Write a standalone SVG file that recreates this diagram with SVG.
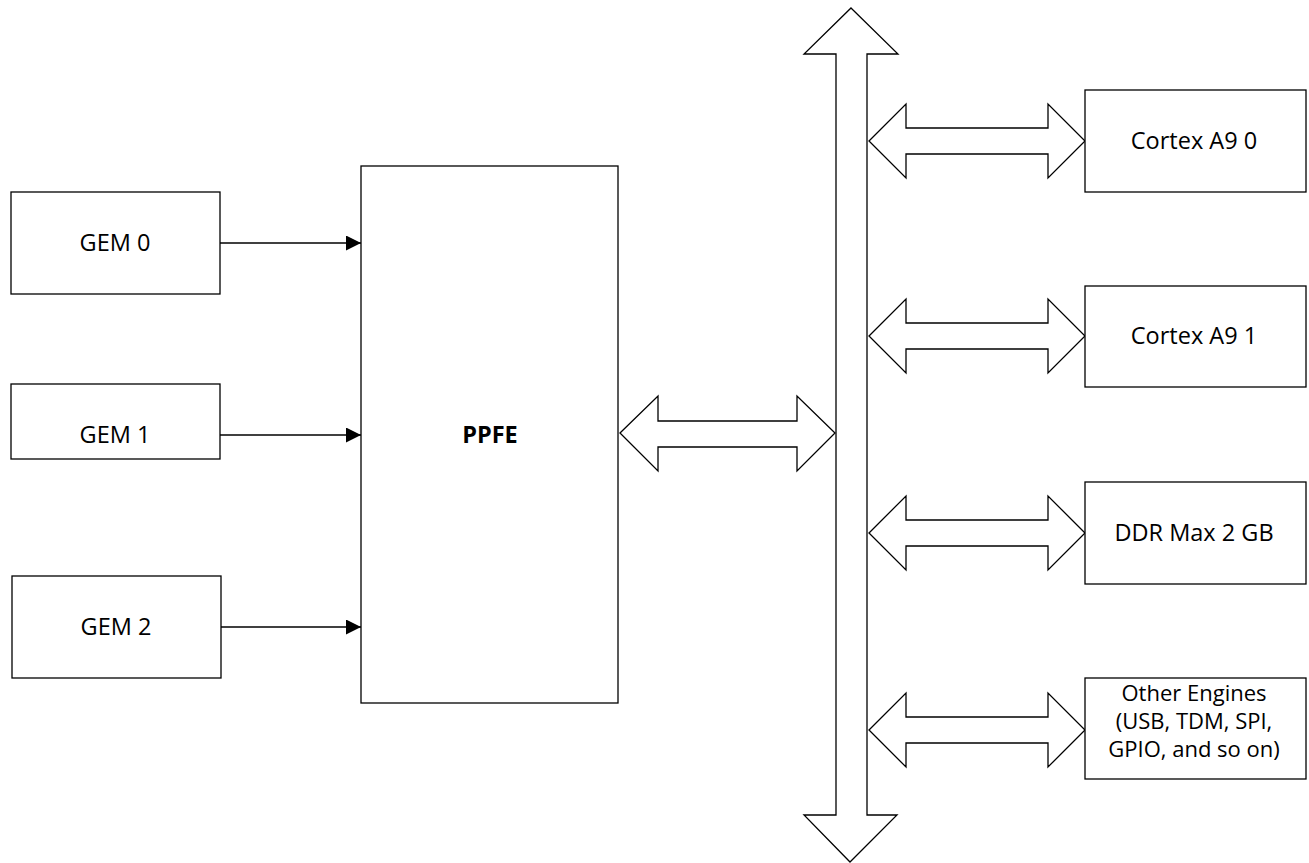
<svg xmlns="http://www.w3.org/2000/svg" width="1309" height="863" viewBox="0 0 1309 863">
<style>
.box{fill:#fff;stroke:#000;stroke-width:1.3}
.lbl{font-family:"Open Sans","Liberation Sans",sans-serif;font-size:23.5px;fill:#000;text-anchor:middle}
.small{font-size:22px}
.bold{font-weight:bold}
.fat{fill:#fff;stroke:#000;stroke-width:1.3;stroke-linejoin:miter}
.line{stroke:#000;stroke-width:1.3;fill:none}
</style>
<defs>
<marker id="ah" viewBox="0 0 10 10" refX="10" refY="5" markerWidth="22" markerHeight="15" markerUnits="userSpaceOnUse" orient="auto">
<path d="M0,0 L10,5 L0,10 z" fill="#000"/>
</marker>
</defs>
<rect width="1309" height="863" fill="#fff"/>
<g id="connectors">
<line class="line" x1="220" y1="243" x2="361" y2="243" marker-end="url(#ah)"/>
<line class="line" x1="220" y1="435" x2="361" y2="435" marker-end="url(#ah)"/>
<line class="line" x1="221" y1="627" x2="361" y2="627" marker-end="url(#ah)"/>
<polygon id="bus" class="fat" points="851,8 898,54 867,54 867,815 897,815 850,862 804,815 836,815 836,54 804,54"/>
<polygon id="ppfe-bus" class="fat" points="620,433 658,396 658,421 797,421 797,396 835,433 797,471 797,447 658,447 658,471"/>
<polygon class="fat" points="869,141 906,104 906,128 1048,128 1048,104 1085,141 1048,178 1048,154 906,154 906,178"/>
<polygon class="fat" points="869,336 906,299 906,323 1048,323 1048,299 1085,336 1048,373 1048,349 906,349 906,373"/>
<polygon class="fat" points="869,533 906,496 906,520 1048,520 1048,496 1085,533 1048,570 1048,546 906,546 906,570"/>
<polygon class="fat" points="869,730 906,693 906,717 1048,717 1048,693 1085,730 1048,767 1048,743 906,743 906,767"/>
</g>
<g id="gem0"><rect class="box" x="11" y="192" width="209" height="102"/><text class="lbl" x="115" y="251">GEM 0</text></g>
<g id="gem1"><rect class="box" x="11" y="384" width="209" height="75"/><text class="lbl" x="115" y="443">GEM 1</text></g>
<g id="gem2"><rect class="box" x="12" y="576" width="209" height="102"/><text class="lbl" x="116" y="635">GEM 2</text></g>
<g id="ppfe"><rect class="box" x="361" y="166" width="257" height="537"/><text class="lbl bold" x="490" y="443">PPFE</text></g>
<g id="cortex0"><rect class="box" x="1085" y="90" width="221" height="102"/><text class="lbl" x="1194" y="149">Cortex A9 0</text></g>
<g id="cortex1"><rect class="box" x="1085" y="286" width="221" height="101"/><text class="lbl" x="1194" y="344">Cortex A9 1</text></g>
<g id="ddr"><rect class="box" x="1085" y="482" width="221" height="102"/><text class="lbl" x="1194" y="541">DDR Max 2 GB</text></g>
<g id="other"><rect class="box" x="1085" y="678" width="221" height="101"/><text class="lbl small" x="1194" y="701">Other Engines</text><text class="lbl small" x="1194" y="729">(USB, TDM, SPI,</text><text class="lbl small" x="1194" y="757">GPIO, and so on)</text></g>
</svg>
